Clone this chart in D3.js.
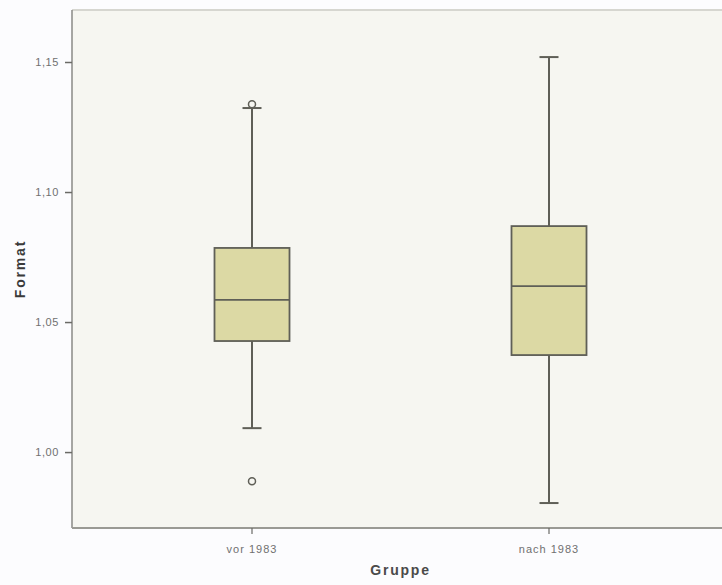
<!DOCTYPE html>
<html>
<head>
<meta charset="utf-8">
<script src="https://cdn.jsdelivr.net/npm/d3@7"></script>
<style>
  html, body { margin: 0; padding: 0; background: #fcfcfe; }
  svg { display: block; }
</style>
</head>
<body>
<svg id="chart" width="722" height="585"></svg>
<script>
// Group labels and five-number summaries of "Format"
const groups = ["vor 1983", "nach 1983"];
const whiskerLow  = [1.0092, 0.9804];
const q1          = [1.0427, 1.0373];
const median      = [1.0585, 1.0638];
const q3          = [1.0785, 1.0869];
const whiskerHigh = [1.1323, 1.1519];
// Outliers per group
const outliers = [[1.1338, 0.9888], []];
const yTicks = [1.00, 1.05, 1.10, 1.15];

const svg = d3.select("#chart");
const plot = { left: 72, right: 722, top: 10, bottom: 528 };
const font = "Liberation Sans, Arial, sans-serif";

const x = d3.scaleBand().domain(groups).range([103.5, 697.5]);
const y = d3.scaleLinear().domain([0.9708, 1.17]).range([plot.bottom, plot.top]);

// Plot background
svg.append("rect")
  .attr("x", plot.left).attr("y", plot.top)
  .attr("width", plot.right - plot.left).attr("height", plot.bottom - plot.top)
  .attr("fill", "#f6f6f1");
svg.append("line")
  .attr("x1", plot.left).attr("x2", plot.right)
  .attr("y1", plot.top).attr("y2", plot.top)
  .attr("stroke", "#d6d6d0").attr("stroke-width", 2);

const fmt = d => d3.format(".2f")(d).replace(".", ",");

// Y axis
const yAxis = svg.append("g")
  .attr("transform", `translate(${plot.left},0)`)
  .call(d3.axisLeft(y).tickValues(yTicks).tickSize(7).tickFormat(fmt));
yAxis.select(".domain").attr("stroke", "#8a8a86").attr("stroke-width", 1.5)
  .attr("d", `M0,${plot.top}V${plot.bottom}`);
yAxis.selectAll(".tick line").attr("stroke", "#6a6a66").attr("stroke-width", 1.5);
yAxis.selectAll(".tick text")
  .attr("font-family", font).attr("letter-spacing", 0.6)
  .attr("font-size", 11).attr("fill", "#707070").attr("x", -13);

// X axis
const xAxis = svg.append("g")
  .attr("transform", `translate(0,${plot.bottom})`)
  .call(d3.axisBottom(x).tickSize(6).tickSizeOuter(0));
xAxis.select(".domain").attr("stroke", "#9a9a94").attr("stroke-width", 2)
  .attr("d", `M${plot.left},0H${plot.right}`);
xAxis.selectAll(".tick line").attr("stroke", "#6a6a66").attr("stroke-width", 1.2);
xAxis.selectAll(".tick text")
  .attr("font-family", font).attr("letter-spacing", 1)
  .attr("font-size", 11).attr("fill", "#707070")
  .attr("dy", null).attr("y", 25);

// Boxes
const boxW = 75, capW = 19;
const ink = "#5f5f57";
groups.forEach((g, i) => {
  const cx = x(g) + x.bandwidth() / 2;
  const grp = svg.append("g");
  // whiskers
  grp.append("line").attr("x1", cx).attr("x2", cx)
    .attr("y1", y(q3[i])).attr("y2", y(whiskerHigh[i]))
    .attr("stroke", ink).attr("stroke-width", 2);
  grp.append("line").attr("x1", cx).attr("x2", cx)
    .attr("y1", y(q1[i])).attr("y2", y(whiskerLow[i]))
    .attr("stroke", ink).attr("stroke-width", 2);
  [whiskerHigh[i], whiskerLow[i]].forEach(v => {
    grp.append("line").attr("x1", cx - capW / 2).attr("x2", cx + capW / 2)
      .attr("y1", y(v)).attr("y2", y(v))
      .attr("stroke", ink).attr("stroke-width", 2);
  });
  // box
  grp.append("rect")
    .attr("x", cx - boxW / 2).attr("width", boxW)
    .attr("y", y(q3[i])).attr("height", y(q1[i]) - y(q3[i]))
    .attr("fill", "#dcd9a4").attr("stroke", ink).attr("stroke-width", 1.8);
  // median
  grp.append("line").attr("x1", cx - boxW / 2).attr("x2", cx + boxW / 2)
    .attr("y1", y(median[i])).attr("y2", y(median[i]))
    .attr("stroke", ink).attr("stroke-width", 1.8);
  // outliers
  outliers[i].forEach(v => {
    grp.append("circle").attr("cx", cx).attr("cy", y(v)).attr("r", 3.5)
      .attr("fill", "none").attr("stroke", ink).attr("stroke-width", 1.5);
  });
});

// Axis titles
const xMid = (x(groups[0]) + x(groups[1]) + x.bandwidth()) / 2;
svg.append("text")
  .attr("x", xMid).attr("y", 575).attr("text-anchor", "middle")
  .attr("font-family", font)
  .attr("font-size", 14).attr("font-weight", "bold").attr("fill", "#4a4a4a")
  .attr("letter-spacing", 1.8)
  .text("Gruppe");
svg.append("text")
  .attr("transform", "translate(25,269) rotate(-90)").attr("text-anchor", "middle")
  .attr("font-family", font)
  .attr("font-size", 14).attr("font-weight", "bold").attr("fill", "#3a3a3a")
  .attr("letter-spacing", 1.8)
  .text("Format");
</script>
</body>
</html>
